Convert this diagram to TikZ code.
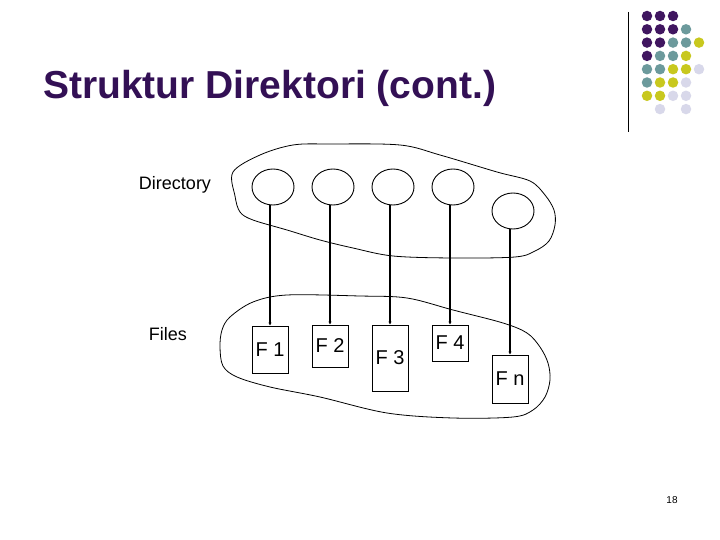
\documentclass[tikz,border=0pt]{standalone}
\usepackage{fontspec}
\setmainfont{Liberation Sans}
\usetikzlibrary{shapes.geometric,arrows.meta}
\definecolor{titlepurple}{RGB}{51,16,85}
\definecolor{dpurple}{RGB}{64,22,96}
\definecolor{dteal}{RGB}{108,154,156}
\definecolor{dyellow}{RGB}{200,200,30}
\definecolor{dlav}{RGB}{216,216,234}
\tikzset{
  dirnode/.style={draw, ellipse, minimum width=42pt, minimum height=36pt, inner sep=0pt, line width=0.9pt},
  filebox/.style={draw, rectangle, minimum width=36pt, inner sep=0pt, line width=0.9pt, font=\fontsize{20}{22}\selectfont},
  link/.style={line width=2pt, -{Latex[length=3pt,width=3.5pt]}},
  blob/.style={line width=0.8pt},
  lbl/.style={font=\fontsize{18}{20}\selectfont, inner sep=0pt},
  dot/.style={circle, fill, minimum size=10.5pt, inner sep=0pt}
}
\begin{document}
\begin{tikzpicture}[x=1pt,y=-1pt]
\useasboundingbox (0,0) rectangle (720,540);
\fill[white] (0,0) rectangle (720,540);
% decoration
\draw[line width=1pt] (628,12) -- (628,132);
\foreach \c/\r/\col in {0/0/dpurple,1/0/dpurple,2/0/dpurple,
  0/1/dpurple,1/1/dpurple,2/1/dpurple,3/1/dteal,
  0/2/dpurple,1/2/dpurple,2/2/dteal,3/2/dteal,4/2/dyellow,
  0/3/dpurple,1/3/dteal,2/3/dteal,3/3/dyellow,
  0/4/dteal,1/4/dteal,2/4/dyellow,3/4/dyellow,4/4/dlav,
  0/5/dteal,1/5/dyellow,2/5/dyellow,3/5/dlav,
  0/6/dyellow,1/6/dyellow,2/6/dlav,3/6/dlav,
  1/7/dlav,3/7/dlav}
  \node[dot, text=\col, fill=\col] at ({647+13*\c},{16+13.3*\r}) {};
% title
\node[anchor=base west, inner sep=0pt, text=titlepurple, font=\bfseries\fontsize{39}{44}\selectfont] (title) at (43,99) {Struktur Direktori (cont.)};
% labels
\node[lbl] (ldir) at (175,185) {Directory};
\node[lbl] (lfiles) at (168,334) {Files};
% blobs
\draw[blob] plot[smooth cycle, tension=0.55] coordinates {
 (233,172) (260,155) (293,145) (330,144) (400,145) (440,155) (497,172) (530,181)
 (545,195) (554,210) (555,225) (549,241) (535,251) (515,257) (453,258) (393,256)
 (353,248) (320,240) (287,230) (253,220) (240,212) (235,196)};
\draw[blob] plot[smooth cycle, tension=0.55] coordinates {
 (230,317) (253,302) (287,295) (360,296) (407,298) (453,310) (503,323) (527,333)
 (540,347) (548,363) (550,380) (545,397) (533,410) (513,417) (453,418) (387,413)
 (320,397) (270,387) (237,377) (223,366) (220,347) (222,330)};
% directory entries
\node[dirnode] (d1) at (273,187) {};
\node[dirnode] (d2) at (333,187) {};
\node[dirnode] (d3) at (393,187) {};
\node[dirnode] (d4) at (453,187) {};
\node[dirnode] (d5) at (513,211) {};
% files
\node[filebox, minimum height=47pt] (f1) at (270,349.5) {F 1};
\node[filebox, minimum height=42pt] (f2) at (330,346) {F 2};
\node[filebox, minimum height=66pt] (f3) at (390,358) {F 3};
\node[filebox, minimum height=36pt] (f4) at (450,343) {F 4};
\node[filebox, minimum height=48pt] (fn) at (510,379) {F n};
% links
\foreach \d/\f in {d1/f1,d2/f2,d3/f3,d4/f4,d5/fn}
  \draw[link] (\f.north |- \d.south) -- (\f.north);
% page number
\node[font=\fontsize{10}{12}\selectfont, inner sep=0pt] (pg) at (672,500) {18};
\end{tikzpicture}
\end{document}
